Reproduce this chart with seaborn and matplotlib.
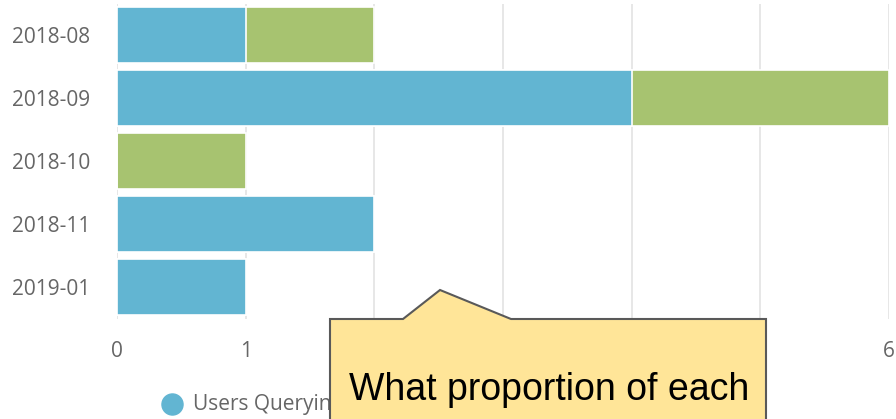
import matplotlib
matplotlib.use("Agg")
import matplotlib.pyplot as plt
import seaborn as sns
import pandas as pd
from matplotlib.patches import Polygon, Rectangle

months = ["2018-08", "2018-09", "2018-10", "2018-11", "2019-01"]
users_querying = [1, 4, 0, 2, 1]
other_users = [1, 2, 1, 0, 0]
x_ticks = [0, 1, 2, 3, 4, 5, 6]
x_tick_labels = ["0", "1", "2", "3", "4", "5", "6"]
legend_label = "Users Querying Data"
callout_text = "What proportion of each"

blue = "#62B5D2"
green = "#A7C370"
text_gray = "#666666"

sns.set_style("white")
plt.rcParams['font.family'] = ['Open Sans', 'DejaVu Sans']

df = pd.DataFrame({
    "month": months,
    "blue": users_querying,
    "total": [a + b for a, b in zip(users_querying, other_users)],
})

fig = plt.figure(figsize=(8.96, 4.19), dpi=100)
ax = fig.add_axes([117/896, 1 - 318.5/419, (889 - 117)/896, 315/419])

sns.barplot(data=df, y="month", x="total", orient="h", color=green,
            saturation=1, width=0.9, edgecolor="white", linewidth=1.2, ax=ax, zorder=2)
sns.barplot(data=df, y="month", x="blue", orient="h", color=blue,
            saturation=1, width=0.9, edgecolor="white", linewidth=1.2, ax=ax, zorder=3)

ax.set_xlim(0, 6)
ax.set_ylim(4.5, -0.5)
ax.set_xticks(x_ticks)
ax.set_xticklabels(x_tick_labels)
ax.xaxis.grid(True, color="#E3E3E3", linewidth=1.2, zorder=0)
ax.set_axisbelow(True)
for s in ax.spines.values():
    s.set_visible(False)
ax.set_xlabel("")
ax.set_ylabel("")
ax.tick_params(axis="both", length=0, labelsize=15, colors=text_gray, labelcolor=text_gray)
ax.tick_params(axis="y", pad=19.5)
ax.tick_params(axis="x", pad=16)

# overlay axes in pixel coordinates for legend and callout
ax_leg = fig.add_axes([0, 0, 1, 1], facecolor="none")
ax_leg.set_xlim(0, 896)
ax_leg.set_ylim(419, 0)
ax_leg.axis("off")
ax_leg.scatter([172], [404], s=230, color=blue, zorder=1)
leg_txt = ax_leg.text(193, 404, legend_label, fontsize=15, color=text_gray,
                      va="center", ha="left", zorder=1)
clip = Rectangle((0, 0), 330, 419, transform=ax_leg.transData)
leg_txt.set_clip_path(clip)

# callout
pts = [(330, 319), (403, 319), (440, 290), (511, 319), (766, 319), (766, 425), (330, 425)]
ax_leg.add_patch(Polygon(pts, closed=True, facecolor="#FFE598", edgecolor="#595959",
                         linewidth=1.5, zorder=5, clip_on=False))
ax_leg.text(349, 400, callout_text, fontsize=27, family=["Liberation Sans", "DejaVu Sans"],
            color="black", ha="left", va="baseline", zorder=6)

fig.savefig("out.png", dpi=100)
